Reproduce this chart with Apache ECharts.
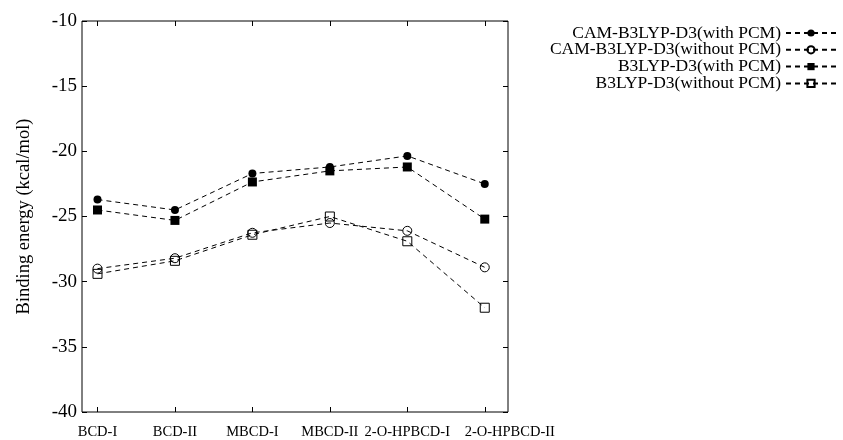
<!DOCTYPE html>
<html>
<head>
<meta charset="utf-8">
<script src="https://cdn.jsdelivr.net/npm/echarts@6/dist/echarts.min.js"></script>
<style>
  html, body { margin: 0; padding: 0; background: #fff; }
  #chart { width: 843px; height: 440px; }
</style>
</head>
<body>
<div id="chart"></div>
<script>
// categories along x (placed at 0..5)
const categories = ["BCD-I", "BCD-II", "MBCD-I", "MBCD-II", "2-O-HPBCD-I", "2-O-HPBCD-II"];
const yTicks = [-40, -35, -30, -25, -20, -15, -10];

const camWithPCM = [-23.7, -24.5, -21.7, -21.2, -20.35, -22.5];
const camWithoutPCM = [-29.0, -28.2, -26.25, -25.5, -26.1, -28.9];
const b3lypWithPCM = [-24.5, -25.3, -22.35, -21.5, -21.2, -25.2];
const b3lypWithoutPCM = [-29.4, -28.4, -26.4, -25.0, -26.9, -32.0];

const font = "'Liberation Serif', 'DejaVu Serif', serif";
const catPos = categories.map((c, i) => i);

function pts(vals) {
  return vals.map((v, i) => [i, v]);
}

function mkSeries(name, vals, symbol, size, hollow) {
  return {
    name: name,
    type: "line",
    data: pts(vals),
    symbol: symbol,
    symbolSize: size,
    showSymbol: true,
    z: 3,
    lineStyle: { color: "#000", width: 1, type: [5, 4] },
    itemStyle: hollow
      ? { color: "rgba(0,0,0,0)", borderColor: "#000", borderWidth: 1 }
      : { color: "#000", borderWidth: 0 },
    emphasis: { disabled: true },
  };
}

const chart = echarts.init(document.getElementById("chart"));
chart.setOption({
  animation: false,
  backgroundColor: "#fff",
  grid: {
    left: 82, right: 335, top: 21, bottom: 27,
    show: true, borderColor: "#000", borderWidth: 1, backgroundColor: "transparent",
  },
  legend: {
    orient: "vertical",
    align: "right",
    right: 6,
    top: 24,
    padding: 0,
    itemWidth: 50,
    itemHeight: 9,
    itemGap: -1.2,
    textStyle: { fontFamily: font, fontSize: 17.5, color: "#000", lineHeight: 15 },
    data: [
      "CAM-B3LYP-D3(with PCM)",
      "CAM-B3LYP-D3(without PCM)",
      "B3LYP-D3(with PCM)",
      "B3LYP-D3(without PCM)",
    ],
  },
  xAxis: [
    {
      type: "value",
      min: -0.2,
      max: 5.3,
      splitLine: { show: false },
      axisLine: { show: false, onZero: false },
      axisTick: { show: true, inside: true, length: 5, customValues: catPos, lineStyle: { color: "#000" } },
      axisLabel: {
        customValues: catPos,
        formatter: (v) => {
          const i = Math.round(v);
          // the last label sits to the right of its tick in the original
          return i === categories.length - 1 ? "{last|" + categories[i] + "}" : categories[i];
        },
        fontFamily: font,
        fontSize: 14.5,
        color: "#000",
        margin: 13,
        hideOverlap: false,
        showMinLabel: true,
        showMaxLabel: true,
        rich: {
          last: { fontFamily: font, fontSize: 14.5, color: "#000", padding: [0, 0, 0, 50] },
        },
      },
    },
    {
      type: "value",
      position: "top",
      min: -0.2,
      max: 5.3,
      splitLine: { show: false },
      axisLine: { show: false, onZero: false },
      axisTick: { show: true, inside: true, length: 5, customValues: catPos, lineStyle: { color: "#000" } },
      axisLabel: { show: false },
    },
  ],
  yAxis: [
    {
      type: "value",
      min: -40,
      max: -10,
      interval: 5,
      name: "Binding energy (kcal/mol)",
      nameLocation: "middle",
      nameGap: 48,
      nameTextStyle: { fontFamily: font, fontSize: 18.5, color: "#000" },
      splitLine: { show: false },
      axisLine: { show: false, onZero: false },
      axisTick: { show: true, inside: true, length: 5, lineStyle: { color: "#000" } },
      axisLabel: {
        customValues: yTicks,
        fontFamily: font,
        fontSize: 19,
        color: "#000",
        margin: 5,
      },
    },
    {
      type: "value",
      position: "right",
      min: -40,
      max: -10,
      interval: 5,
      splitLine: { show: false },
      axisLine: { show: false, onZero: false },
      axisTick: { show: true, inside: true, length: 5, lineStyle: { color: "#000" } },
      axisLabel: { show: false },
    },
  ],
  series: [
    mkSeries("CAM-B3LYP-D3(with PCM)", camWithPCM, "circle", 8, false),
    mkSeries("CAM-B3LYP-D3(without PCM)", camWithoutPCM, "circle", 9, true),
    mkSeries("B3LYP-D3(with PCM)", b3lypWithPCM, "rect", 9, false),
    mkSeries("B3LYP-D3(without PCM)", b3lypWithoutPCM, "rect", 9, true),
  ],
});
</script>
</body>
</html>
